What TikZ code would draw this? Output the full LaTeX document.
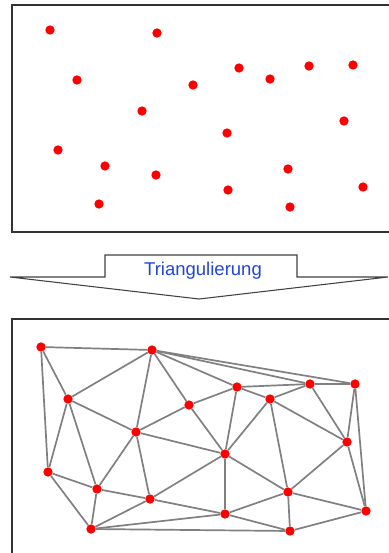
\documentclass[tikz,border=0pt]{standalone}
\usepackage{fontspec}
\setmainfont{Liberation Sans}
\usepackage{xcolor}
\usepackage{tikz}
\usetikzlibrary{positioning}

\definecolor{dotred}{RGB}{255,0,0}
\definecolor{edgegray}{RGB}{128,128,128}
\definecolor{framegray}{RGB}{51,51,51}
\definecolor{labelblue}{RGB}{34,68,221}

\begin{document}
\begin{tikzpicture}[
  x=0.03cm, y=-0.03cm,
  frame/.style={draw=framegray, line width=1.6pt},
  dot/.style={circle, fill=dotred, inner sep=0pt, minimum size=0.28cm},
  link/.style={draw=edgegray, line width=1.45pt},
  bigarrow/.style={draw=black!75, line width=0.9pt, line join=miter},
]
\clip (0,0) rectangle (389,553);

% point set
\draw[frame] (12,5) rectangle (420,232);
\foreach \n/\x/\y in {1/50/30, 2/157/33, 3/77/80, 4/193/85, 5/239/68,
  6/270/79, 7/309/66, 8/353/65, 9/142/111, 10/227/133, 11/344/121,
  12/58/150, 13/105/166, 14/156/175, 15/288/169, 16/228/190,
  17/363/187, 18/99/204, 19/290/207}
  \node[dot] (s\n) at (\x,\y) {};

% step in between
\draw[bigarrow] (10,277) -- (105,277) -- (105,255) -- (297,255)
  -- (297,277) -- (388,277) -- (199,299) -- cycle;
\node[text=labelblue, font=\fontsize{15.8}{18}\selectfont] (lbl) at (203,271)
  {Triangulierung};

% triangulation
\draw[frame] (12,319) rectangle (420,600);
\foreach \n/\x/\y in {A/41/347, B/152/350, C/68/399, D/189/405, E/237/387,
  F/270/399, G/310/384, H/355/384, I/136/432, J/225/454, K/347/442,
  L/48/472, M/97/489, N/150/499, O/288/492, P/225/514, Q/366/511,
  R/91/529, S/290/531}
  \node[dot] (\n) at (\x,\y) {};

\foreach \a/\b in {A/B, A/C, A/L, B/C, B/I, B/D, B/E, B/G, B/H,
  C/I, C/M, C/L, D/E, D/I, D/J, E/F, E/G, E/J, F/G, F/J, F/K, F/O,
  G/H, G/K, H/K, H/Q, I/J, I/M, I/N, J/N, J/O, J/P, K/O, K/Q,
  L/M, L/R, M/N, M/R, N/R, N/P, O/P, O/S, O/Q, P/R, P/S, R/S, S/Q}
  \draw[link] (\a) -- (\b);

\end{tikzpicture}
\end{document}
